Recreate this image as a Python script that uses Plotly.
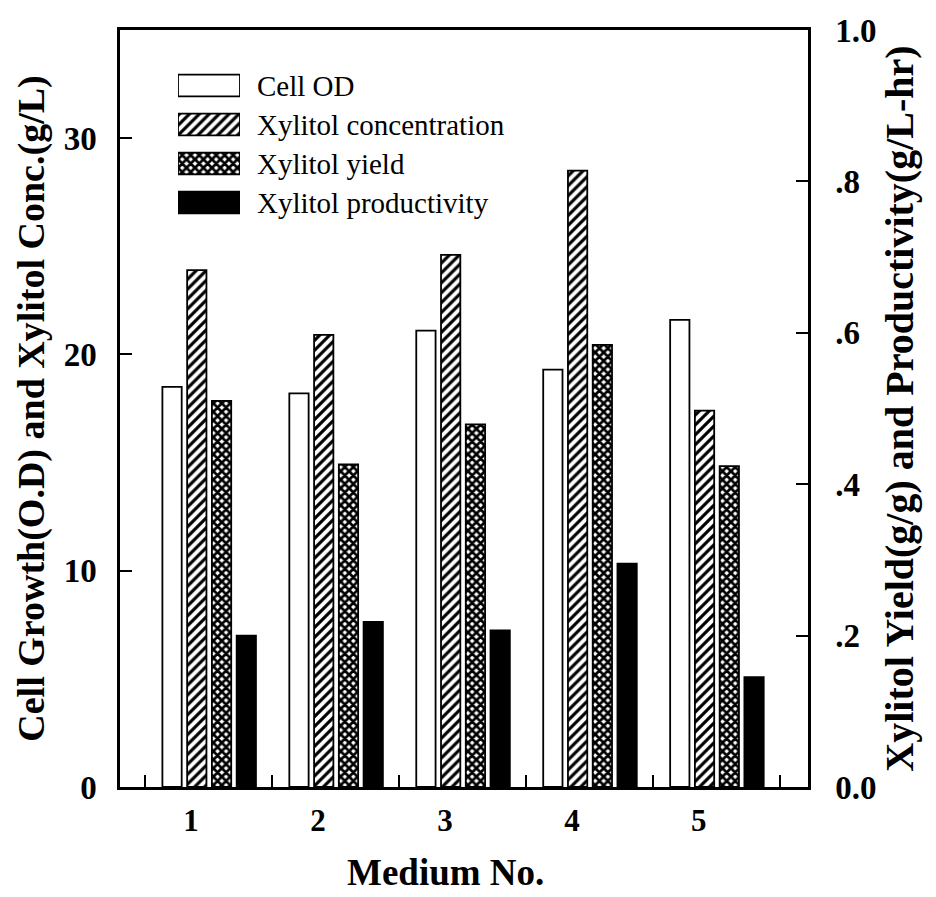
import plotly.graph_objects as go

# ---- data ----
media = ["1", "2", "3", "4", "5"]
cell_od = [18.5, 18.2, 21.1, 19.3, 21.6]          # left axis
xyl_conc = [23.9, 20.9, 24.6, 28.5, 17.4]         # left axis (g/L)
xyl_yield = [0.51, 0.426, 0.479, 0.584, 0.424]    # right axis (g/g)
xyl_prod = [0.200, 0.218, 0.207, 0.295, 0.145]    # right axis (g/L-hr)
series_names = ["Cell OD", "Xylitol concentration", "Xylitol yield", "Xylitol productivity"]
left_ticks = [0, 10, 20, 30]
right_tickvals = [0.0, 0.2, 0.4, 0.6, 0.8, 1.0]
right_ticktext = ["0.0", ".2", ".4", ".6", ".8", "1.0"]

FONT = "'Liberation Serif', 'Times New Roman', Times, serif"
centers = list(range(1, len(media) + 1))
offsets = [-0.29, -0.095, 0.10, 0.295]
bw = 0.152

styles = [
    dict(color="white", pattern=None),
    dict(color="white", pattern=dict(shape="/", fgcolor="black", bgcolor="white", size=7, solidity=0.45, fgopacity=1)),
    dict(color="white", pattern=dict(shape="x", fgcolor="black", bgcolor="white", size=6, solidity=0.7, fgopacity=1)),
    dict(color="black", pattern=None),
]

def marker(i):
    m = dict(color=styles[i]["color"], line=dict(color="black", width=1.8))
    if styles[i]["pattern"] is not None:
        m["pattern"] = styles[i]["pattern"]
    return m

fig = go.Figure()
values = [cell_od, xyl_conc, xyl_yield, xyl_prod]
axes = ["y", "y", "y2", "y2"]
for i, (vals, ax) in enumerate(zip(values, axes)):
    fig.add_trace(go.Bar(
        x=[c + offsets[i] for c in centers], y=vals, width=bw,
        marker=marker(i), yaxis=ax, xaxis="x", name=series_names[i],
        showlegend=False,
    ))

# legend drawn as an inset of horizontal bars
for i, nm in enumerate(series_names):
    fig.add_trace(go.Bar(
        x=[1], y=[nm], orientation="h", width=0.56, marker=marker(i),
        xaxis="x3", yaxis="y3", showlegend=False, hoverinfo="skip",
    ))

# page is offset by the 8px body margin
OFF = 8
W, H = 936, 897
ML, MR, MT, MB = 112, 136, 22, 118
plot_h = H - MT - MB

def paper_y(page_y):
    return (H - MB - (page_y - OFF)) / plot_h

fig.update_layout(
    width=W, height=H,
    margin=dict(l=ML, r=MR, t=MT, b=MB),
    paper_bgcolor="white", plot_bgcolor="white",
    barmode="overlay",
    font=dict(family=FONT, color="black"),
    xaxis=dict(
        range=[0.3, 5.72], showgrid=False, zeroline=False, automargin=False,
        showline=True, linecolor="black", linewidth=2.5, mirror=True,
        tickvals=[c - 0.14 for c in centers], ticktext=media, ticks="",
        tickfont=dict(family=FONT, size=31, weight="bold"),
        ticklabelstandoff=4,
        minor=dict(tickvals=[c - 0.5 for c in centers] + [centers[-1] + 0.5],
                   ticks="inside", ticklen=12, tickwidth=2, tickcolor="black"),
    ),
    yaxis=dict(
        range=[0, 35], showgrid=False, zeroline=False, automargin=False,
        showline=True, linecolor="black", linewidth=2.5,
        tickvals=left_ticks, ticks="inside", ticklen=12, tickwidth=2, tickcolor="black",
        tickfont=dict(family=FONT, size=33, weight="bold"),
        ticklabelstandoff=14,
        title=dict(text="Cell Growth(O.D) and Xylitol Conc.(g/L)",
                   font=dict(family=FONT, size=38, weight="bold"), standoff=8),
    ),
    yaxis2=dict(
        range=[0, 1.0], overlaying="y", side="right", anchor="x", automargin=False,
        showgrid=False, zeroline=False,
        showline=True, linecolor="black", linewidth=2.5,
        tickvals=right_tickvals, ticktext=right_ticktext,
        ticks="inside", ticklen=12, tickwidth=2, tickcolor="black",
        tickfont=dict(family=FONT, size=33, weight="bold"),
        ticklabelstandoff=18,
        title=dict(text="Xylitol Yield(g/g) and Productivity(g/L-hr)",
                   font=dict(family=FONT, size=40, weight="bold"), standoff=6),
    ),
    xaxis3=dict(domain=[0.0843, 0.1744], anchor="y3", range=[0, 1],
                visible=False, fixedrange=True),
    yaxis3=dict(domain=[paper_y(222), paper_y(66)], anchor="x3", side="right",
                type="category", categoryorder="array", categoryarray=series_names[::-1],
                showgrid=False, zeroline=False, showline=False, ticks="",
                automargin=False,
                tickfont=dict(family=FONT, size=29), ticklabelstandoff=16),
)

fig.add_annotation(
    text="Medium No.", xref="paper", yref="paper",
    x=(445 - OFF - ML) / (W - ML - MR), y=paper_y(872),
    xanchor="center", yanchor="middle", showarrow=False,
    font=dict(family=FONT, size=37, weight="bold"),
)

fig.write_html("out.html")
